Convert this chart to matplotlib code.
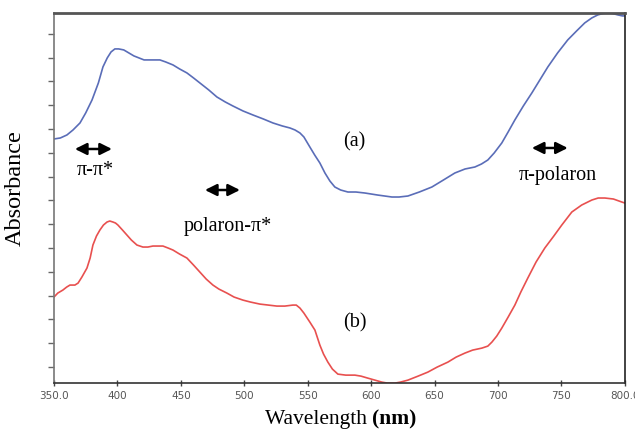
import matplotlib
matplotlib.use("Agg")
import matplotlib.pyplot as plt
import numpy as np

# Wavelength (nm) and absorbance (arbitrary units)
wl_a = [350, 355, 360.2, 365, 370.5, 375, 380, 385, 388.6, 392, 395, 398, 401, 405,
        409, 413, 417, 421, 427, 433.5, 438, 443.8, 449, 454.8, 460, 465, 472, 478.4,
        485, 491, 499, 506.8, 515, 522.6, 530, 536, 540, 543.9, 547, 551.7, 555.5,
        559.6, 563.6, 567.5, 571.4, 576, 581.7, 588, 595.1, 605, 616.4, 622, 629,
        638, 647.9, 657, 666, 674, 681.8, 687, 692, 697, 703, 708, 713.3, 720, 726.7,
        733, 739.3, 747, 755, 762, 768.4, 774, 778.7, 783, 786.6, 790, 794.5, 798, 800]
abs_a = [244, 245, 248, 253, 260, 270, 283, 300, 316, 325, 331, 334, 334, 333,
         330, 327, 325, 323, 323, 323, 321, 318, 314, 310, 305, 300, 293, 286,
         281, 277, 272, 268, 264, 260, 257, 255, 253, 250, 246, 236, 228,
         220, 210, 202, 196, 193, 191, 191, 190, 188, 186, 186, 187,
         191, 196, 203, 210, 214, 216, 219, 223, 230, 240, 251, 263, 277, 290,
         303, 316, 330, 343, 352, 360, 365, 368, 369.5, 370, 369.5, 368, 367, 367]

wl_b = [350, 353, 357, 360, 362.6, 366.5, 369, 372, 376, 378.5, 380.7, 383.5, 386.2,
        389, 391.8, 394, 396.5, 398.5, 400.4, 404, 407.5, 411, 415.4, 420.1, 424, 428,
        432, 435.9, 440, 443.8, 449, 454.8, 460, 465, 470, 475.3, 480, 486.3, 492,
        498.9, 505, 512.3, 519, 525.7, 532, 538.3, 541, 543.9, 547, 551.7, 555.7,
        559.6, 562.5, 565.9, 569.5, 573.8, 580, 587.2, 592, 597.4, 603, 608.5, 613,
        618.7, 623, 629, 637, 644.7, 652, 660.5, 667, 673.9, 680, 687.3, 692, 695.2,
        699, 703, 708, 713.3, 718, 723.5, 730, 736.9, 744, 750.3, 758.2, 766, 774,
        779, 784.2, 791, 797.6, 800]
abs_b = [86, 90, 93, 96, 98, 98, 100, 106, 115, 125, 138, 147, 153,
         158, 161, 162, 161, 160, 158, 153, 148, 143, 138, 136, 136, 137,
         137, 137, 135, 133, 129, 125, 118, 111, 104, 98, 94, 90, 86,
         83, 81, 79, 78, 77, 77, 78, 78, 75, 70, 61, 53,
         38, 29, 21, 14, 9, 8, 8, 7, 5, 3, 1, 0,
         0, 1, 3, 7, 11, 16, 21, 26, 30, 33, 35, 37, 41,
         47, 55, 66, 78, 91, 105, 121, 135, 147, 158, 171, 178, 183,
         185, 185, 184, 181, 180]

x_ticks = [350, 400, 450, 500, 550, 600, 650, 700, 750, 800]
x_tick_labels = ["350.0", "400", "450", "500", "550", "600", "650", "700", "750", "800.0"]

serif = ["Liberation Serif", "DejaVu Serif"]

fig = plt.figure(figsize=(6.35, 4.30), dpi=100)
ax = fig.add_axes([0.085, 0.109, 0.899, 0.861])

ax.plot(wl_a, abs_a, color="#5a6db8", lw=1.2, solid_joinstyle="round")
ax.plot(wl_b, abs_b, color="#e8504f", lw=1.2, solid_joinstyle="round")

ax.set_xlim(350, 800)
ax.set_ylim(0, 370)
ax.set_xticks(x_ticks)
ax.set_xticklabels(x_tick_labels, fontsize=7.5, color="#555555", family="DejaVu Sans")
ax.set_yticks(np.linspace(16, 349.2, 15))
ax.set_yticklabels([])
ax.tick_params(axis="x", direction="inout", length=5, width=1, color="#444444", pad=3)
ax.tick_params(axis="y", direction="out", length=4, width=1, color="#666666")

for side, c, w in [("top", "#555555", 2.0), ("left", "#777777", 1.2),
                   ("right", "#222222", 1.2), ("bottom", "#333333", 1.2)]:
    ax.spines[side].set_color(c)
    ax.spines[side].set_linewidth(w)

fig.text(0.586, 0.025, "Wavelength ", fontsize=15.5, family=serif, ha="right", va="center")
fig.text(0.586, 0.025, "(nm)", fontsize=15.5, family=serif, fontweight="bold", ha="left", va="center")
fig.text(0.024, 0.563, "Absorbance", fontsize=17.5, family=serif, rotation=90, ha="center", va="center")

arrow_kw = dict(arrowstyle="<|-|>,head_length=0.7,head_width=0.35", color="black", lw=1.8,
                shrinkA=0, shrinkB=0)
arrows = [((366.5, 234), (395.7, 234)), ((469, 193), (496.6, 193)), ((726.7, 235), (755, 235))]
for (x0, y0), (x1, y1) in arrows:
    ax.annotate("", xy=(x1, y1), xytext=(x0, y0), arrowprops=arrow_kw)

fs = 14.5
ax.text(382.3, 212, "π-π*", fontsize=fs, family=serif, ha="center", va="center")
ax.text(487, 157, "polaron-π*", fontsize=fs, family=serif, ha="center", va="center")
ax.text(747, 208, "π-polaron", fontsize=fs, family=serif, ha="center", va="center")
ax.text(587, 241, "(a)", fontsize=fs, family=serif, ha="center", va="center")
ax.text(587, 60, "(b)", fontsize=fs, family=serif, ha="center", va="center")

fig.savefig("out.png", dpi=100)
